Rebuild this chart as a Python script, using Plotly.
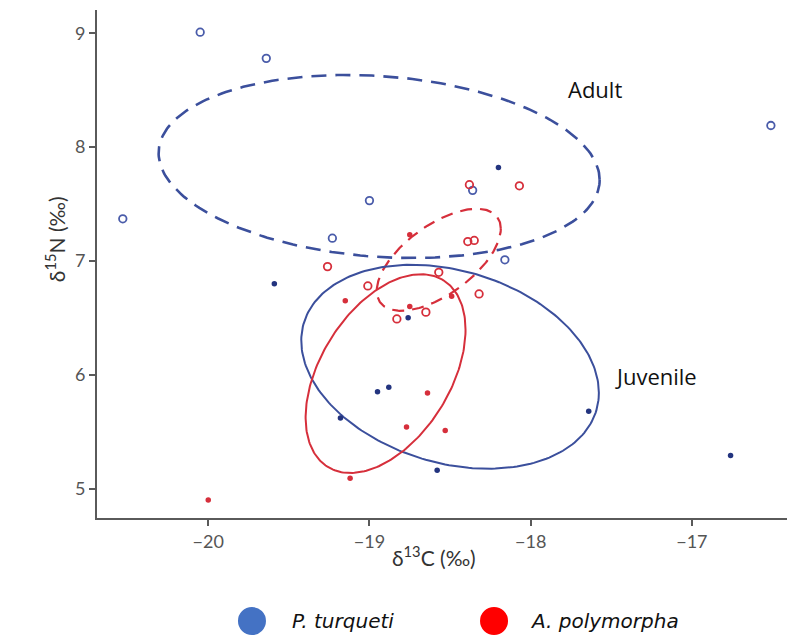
import numpy as np
import plotly.graph_objects as go

# Stable isotope values (d13C, d15N) per species and life stage
pt_adult_c = [-20.05, -19.64, -20.53, -19.00, -19.23, -16.51, -18.36, -18.16]
pt_adult_n = [9.01, 8.78, 7.37, 7.53, 7.20, 8.19, 7.62, 7.01]
pt_juv_c = [-18.20, -19.59, -18.76, -18.95, -18.88, -19.18, -18.58, -17.64, -16.76]
pt_juv_n = [7.82, 6.80, 6.50, 5.85, 5.89, 5.62, 5.16, 5.68, 5.29]
ap_adult_c = [-19.26, -18.38, -18.07, -18.39, -18.35, -18.57, -19.01, -18.32, -18.65, -18.83]
ap_adult_n = [6.95, 7.67, 7.66, 7.17, 7.18, 6.90, 6.78, 6.71, 6.55, 6.49]
ap_juv_c = [-18.75, -19.15, -18.49, -18.75, -18.64, -18.77, -18.53, -19.12, -20.00]
ap_juv_n = [7.23, 6.65, 6.69, 6.60, 5.84, 5.54, 5.51, 5.09, 4.90]

# Standard ellipses: centre and covariance terms
# order: P. turqueti adult, A. polymorpha adult, P. turqueti juvenile, A. polymorpha juvenile
ell_cx = [-18.94, -18.57, -18.50, -18.90]
ell_cy = [7.83, 7.01, 6.07, 6.01]
ell_vxx = [1.871, 0.148, 0.852, 0.246]
ell_vyy = [0.647, 0.201, 0.803, 0.763]
ell_vxy = [-0.162, 0.105, -0.211, 0.191]

x_ticks = [-20, -19, -18, -17]
y_ticks = [5, 6, 7, 8, 9]
legend_names = ["P. turqueti", "A. polymorpha"]
stage_labels = ["Adult", "Juvenile"]

BLUE_LINE = "#3b4f9c"
BLUE_OPEN = "#4a5caa"
BLUE_DOT = "#23347f"
RED = "#d62f3b"
AXIS = "#5a5a5a"


def ellipse_xy(cx, cy, vxx, vyy, vxy, n=240):
    t = np.linspace(0, 2 * np.pi, n)
    l11 = np.sqrt(vxx)
    l21 = vxy / l11
    l22 = np.sqrt(vyy - l21 ** 2)
    return cx + l11 * np.cos(t), cy + l21 * np.cos(t) + l22 * np.sin(t)


fig = go.Figure()

ell_styles = [
    dict(color=BLUE_LINE, width=2.6, dash="15px,9px"),
    dict(color=RED, width=2.2, dash="12px,8px"),
    dict(color=BLUE_LINE, width=2.0, dash="solid"),
    dict(color=RED, width=2.0, dash="solid"),
]
for i, style in enumerate(ell_styles):
    ex, ey = ellipse_xy(ell_cx[i], ell_cy[i], ell_vxx[i], ell_vyy[i], ell_vxy[i])
    fig.add_trace(go.Scatter(x=ex, y=ey, mode="lines", line=style,
                             hoverinfo="skip", showlegend=False))

fig.add_trace(go.Scatter(x=pt_adult_c, y=pt_adult_n, mode="markers", showlegend=False,
                         marker=dict(symbol="circle-open", size=7.5, color=BLUE_OPEN,
                                     line=dict(width=1.8, color=BLUE_OPEN))))
fig.add_trace(go.Scatter(x=ap_adult_c, y=ap_adult_n, mode="markers", showlegend=False,
                         marker=dict(symbol="circle-open", size=7.5, color=RED,
                                     line=dict(width=1.8, color=RED))))
fig.add_trace(go.Scatter(x=pt_juv_c, y=pt_juv_n, mode="markers", showlegend=False,
                         marker=dict(symbol="circle", size=5.5, color=BLUE_DOT)))
fig.add_trace(go.Scatter(x=ap_juv_c, y=ap_juv_n, mode="markers", showlegend=False,
                         marker=dict(symbol="circle", size=5.5, color=RED)))

text_font = dict(family="Open Sans, Noto Sans, sans-serif", size=22, color="#111111")
fig.add_annotation(x=-17.60, y=8.51, text=stage_labels[0], showarrow=False,
                   font=text_font, xref="x", yref="y")
fig.add_annotation(x=-17.22, y=5.99, text=stage_labels[1], showarrow=False,
                   font=text_font, xref="x", yref="y")

title_font = dict(family="Lato, Open Sans, sans-serif", size=21, color="#333333")
fig.add_annotation(x=0.488, y=-0.106, xref="paper", yref="paper",
                   text="\u03b4<sup>13</sup>C (\u2030)", showarrow=False, font=title_font)
fig.add_annotation(x=-0.084, y=0.549, xref="paper", yref="paper", textangle=-90,
                   text="\u03b4<sup>15</sup>N (\u2030)", showarrow=False, font=title_font)

# Legend drawn below the plot
leg_colors = ["#4472c4", "#ff0000"]
leg_dot_x = [0.2246, 0.5754]
leg_text_x = [0.2797, 0.6246]
leg_y = -0.2028
for name, col, dx, tx in zip(legend_names, leg_colors, leg_dot_x, leg_text_x):
    fig.add_shape(type="circle", xref="paper", yref="paper",
                  xsizemode="pixel", ysizemode="pixel",
                  xanchor=dx, yanchor=leg_y, x0=-14, x1=14, y0=-14, y1=14,
                  fillcolor=col, line=dict(width=0))
    fig.add_annotation(x=tx, y=leg_y, xref="paper", yref="paper",
                       xanchor="left", yanchor="middle",
                       text="<i>" + name + "</i>", showarrow=False,
                       font=dict(family="DejaVu Sans, sans-serif", size=20, color="#111111"))

axis_common = dict(showgrid=False, zeroline=False, showline=True, linecolor=AXIS,
                   linewidth=2, ticks="outside", ticklen=6, tickwidth=1.5,
                   tickcolor=AXIS,
                   tickfont=dict(family="Lato, Open Sans, sans-serif", size=18,
                                 color="#555555"))
fig.update_xaxes(range=[-20.69, -16.41], tickvals=x_ticks, **axis_common)
fig.update_yaxes(range=[4.741, 9.205], tickvals=y_ticks, **axis_common)

fig.update_layout(width=787, height=636, margin=dict(l=97, r=0, t=10, b=118),
                  plot_bgcolor="white", paper_bgcolor="white", showlegend=False)

fig.write_html("out.html")
